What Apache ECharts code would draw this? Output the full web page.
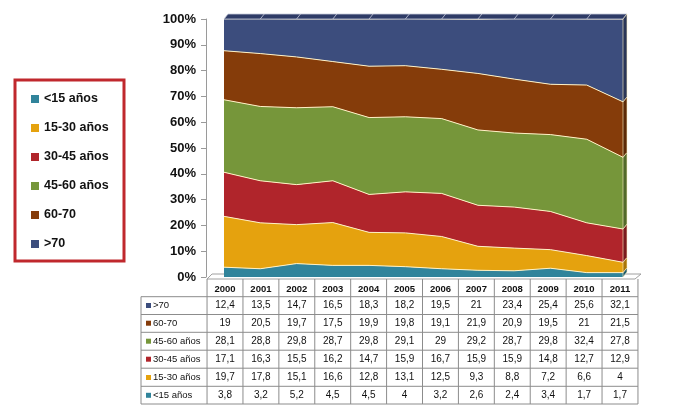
<!DOCTYPE html>
<html>
<head>
<meta charset="utf-8">
<script src="https://cdn.jsdelivr.net/npm/echarts@6/dist/echarts.min.js"></script>
<style>
html,body{margin:0;padding:0;background:#fff;}
#c{width:688px;height:416px;}
</style>
</head>
<body>
<div id="c"></div>
<script>
const years = ['2000','2001','2002','2003','2004','2005','2006','2007','2008','2009','2010','2011'];
const names = ['<15 años','15-30 años','30-45 años','45-60 años','60-70','>70'];
const v_lt15 = [3.8,3.2,5.2,4.5,4.5,4,3.2,2.6,2.4,3.4,1.7,1.7];
const v_15_30 = [19.7,17.8,15.1,16.6,12.8,13.1,12.5,9.3,8.8,7.2,6.6,4];
const v_30_45 = [17.1,16.3,15.5,16.2,14.7,15.9,16.7,15.9,15.9,14.8,12.7,12.9];
const v_45_60 = [28.1,28.8,29.8,28.7,29.8,29.1,29,29.2,28.7,29.8,32.4,27.8];
const v_60_70 = [19,20.5,19.7,17.5,19.9,19.8,19.1,21.9,20.9,19.5,21,21.5];
const v_gt70 = [12.4,13.5,14.7,16.5,18.3,18.2,19.5,21,23.4,25.4,25.6,32.1];
const colors = ['#31849B','#E5A20E','#B0252B','#76963A','#853C0A','#3C4D7D'];
const sideColors = ['#1F5A6A','#A87508','#7A1A1E','#52692A','#5C2A07','#2A3658'];
const values = [v_lt15, v_15_30, v_30_45, v_45_60, v_60_70, v_gt70];
const yTicks = {min:0, max:100, interval:10};

const FONT = 'Liberation Sans';
const fmt = v => String(v).replace('.', ',');

const chart = echarts.init(document.getElementById('c'), null, {renderer:'canvas'});

const series = names.map((n,i)=>({
  name:n, type:'line', stack:'all', xAxisIndex:0, yAxisIndex:0,
  data: values[i], symbol:'none', smooth:false,
  lineStyle:{color:'#FFF1C4', width:1},
  itemStyle:{color:colors[i]},
  areaStyle:{color:colors[i], opacity:1},
  z: 2
}));

const rowOrder = [5,4,3,2,1,0];
const rowCenters = [305.5,323.2,341.2,359.2,377.5,395.3];
const axisBottomY = 277;

const xAxes = [
  {type:'category', gridIndex:0, data:years, boundaryGap:false, show:false},
  {type:'category', gridIndex:1, data:years, boundaryGap:false, position:'bottom', offset:12,
   axisLine:{show:false}, axisTick:{show:false},
   axisLabel:{interval:0, margin:0, verticalAlign:'middle', fontFamily:FONT, fontSize:9.5, fontWeight:'bold', color:'#111'}}
];
rowOrder.forEach((si,r)=>{
  xAxes.push({type:'category', gridIndex:1, data:years, boundaryGap:false, position:'bottom',
    offset: rowCenters[r]-axisBottomY,
    axisLine:{show:false}, axisTick:{show:false},
    axisLabel:{interval:0, margin:0, verticalAlign:'middle', fontFamily:FONT, fontSize:10, color:'#111',
      formatter:(val,idx)=>fmt(values[si][idx])}});
});

const option = {
  animation:false,
  backgroundColor:'#fff',
  grid:[
    {left:224, right:65, top:19, bottom:139},
    {left:225, right:68, top:19, bottom:139, show:false}
  ],
  legend:{
    orient:'vertical', left:31, top:92, padding:0,
    itemWidth:8, itemHeight:8, itemGap:15, icon:'rect',
    data:names,
    textStyle:{fontFamily:FONT, fontSize:12.5, fontWeight:'bold', color:'#111', lineHeight:14}
  },
  xAxis:xAxes,
  yAxis:[
    {type:'value', gridIndex:0, min:yTicks.min, max:yTicks.max, interval:yTicks.interval, offset:18,
     axisLine:{show:true, lineStyle:{color:'#9A9A9A'}},
     axisTick:{show:true, length:5, lineStyle:{color:'#9A9A9A'}},
     splitLine:{show:false},
     axisLabel:{formatter:'{value}%', fontFamily:FONT, fontSize:13, fontWeight:'bold', color:'#111', margin:10}},
    {type:'value', gridIndex:1, min:0, max:1, show:false}
  ],
  series:series
};
chart.setOption(option);

const g = [];
const px = years.map(y=>chart.convertToPixel({xAxisIndex:0}, y));
const xL = px[0], xR = px[px.length-1];
const dx = 4, dy = 5;
const yTop = chart.convertToPixel({yAxisIndex:0}, 100);
g.push({type:'polygon', shape:{points:[[xL,yTop],[xL+dx,yTop-dy],[xR+dx,yTop-dy],[xR,yTop]]}, style:{fill:'#2E3B66', stroke:'#C8CCDA', lineWidth:0.8}, silent:true, z:5});
for(let k=1;k<px.length-1;k++){
  const x = px[k];
  g.push({type:'line', shape:{x1:x, y1:yTop, x2:x+dx, y2:yTop-dy}, style:{stroke:'#C8CCDA', lineWidth:0.8}, silent:true, z:6});
}
let cum = 0;
const last = years.length-1;
values.forEach((arr,i)=>{
  const lo = chart.convertToPixel({yAxisIndex:0}, cum);
  cum += arr[last];
  const hi = chart.convertToPixel({yAxisIndex:0}, Math.min(cum,100));
  g.push({type:'polygon', shape:{points:[[xR,lo],[xR+dx,lo-dy],[xR+dx,hi-dy],[xR,hi]]}, style:{fill:sideColors[i], stroke:'#FFF1C4', lineWidth:0.6}, silent:true, z:5});
});

const cx = years.map(y=>chart.convertToPixel({xAxisIndex:1}, y));
const step = cx[1]-cx[0];
const colL = cx[0]-step/2, colR = cx[cx.length-1]+step/2;
const tableLeft = 141, headTop = 279;
const rowLines = [296.7,314.5,332.3,350.2,368.2,386.3,404];
const lineCol = '#8C8C8C';
g.push({type:'polygon', shape:{points:[[colL,headTop],[colL+5,274],[xR+dx+14,274],[xR+dx+8,headTop]]}, style:{fill:'#fff', stroke:'#A0A0A0', lineWidth:1}, silent:true});
rowLines.forEach(y=>{
  g.push({type:'line', shape:{x1:tableLeft, y1:y, x2:colR, y2:y}, style:{stroke:lineCol, lineWidth:1}, silent:true});
});
for(let k=0;k<=years.length;k++){
  const x = colL + k*step;
  g.push({type:'line', shape:{x1:x, y1:headTop, x2:x, y2:404}, style:{stroke:lineCol, lineWidth:1}, silent:true});
}
g.push({type:'line', shape:{x1:tableLeft, y1:rowLines[0], x2:tableLeft, y2:404}, style:{stroke:lineCol, lineWidth:1}, silent:true});
rowOrder.forEach((si,r)=>{
  const y = rowCenters[r];
  g.push({type:'rect', shape:{x:146, y:y-2.5, width:5, height:5}, style:{fill:colors[si]}, silent:true});
  g.push({type:'text', x:153, y:y, style:{text:names[si], fontFamily:FONT, fontSize:9.5, fill:'#111', verticalAlign:'middle', align:'left'}, silent:true});
});
g.push({type:'rect', shape:{x:15, y:80, width:109, height:181}, style:{fill:'none', stroke:'#C0282D', lineWidth:3}, silent:true, z:10});

chart.setOption({graphic:g});
</script>
</body>
</html>
